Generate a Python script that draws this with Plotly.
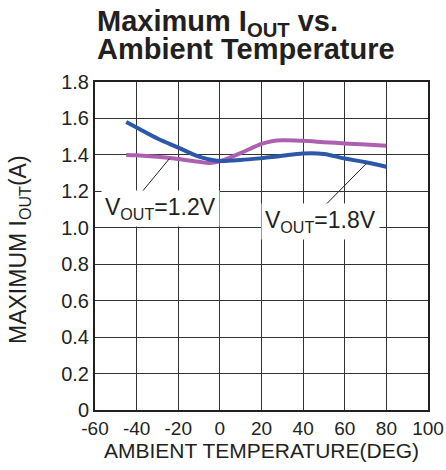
import plotly.graph_objects as go

temps = [-45, -40, -30, -20, -10, -5, 0, 10, 20, 25, 30, 40, 50, 60, 70, 80]
iout_1v8 = [1.58, 1.55, 1.49, 1.44, 1.39, 1.375, 1.367, 1.372, 1.382, 1.388, 1.395, 1.408, 1.405, 1.38, 1.36, 1.335]
iout_1v2 = [1.40, 1.398, 1.39, 1.378, 1.362, 1.355, 1.365, 1.41, 1.46, 1.475, 1.48, 1.477, 1.47, 1.463, 1.457, 1.45]

x_ticks = [-60, -40, -20, 0, 20, 40, 60, 80, 100]
x_ticktext = ["-60", "-40", "-20", "0", "20", "40", "60", "80", "100"]
y_ticks = [0, 0.2, 0.4, 0.6, 0.8, 1.0, 1.2, 1.4, 1.6, 1.8]
y_ticktext = ["0", "0.2", "0.4", "0.6", "0.8", "1.0", "1.2", "1.4", "1.6", "1.8"]

FONT = "Liberation Sans, Arial, sans-serif"
TXT = "#231f20"

fig = go.Figure()
fig.add_trace(go.Scatter(x=temps, y=iout_1v2, mode="lines",
                         line=dict(color="#ad60af", width=4, shape="spline", smoothing=1.0),
                         showlegend=False, hoverinfo="skip"))
fig.add_trace(go.Scatter(x=temps, y=iout_1v8, mode="lines",
                         line=dict(color="#2b58a8", width=4, shape="spline", smoothing=1.0),
                         showlegend=False, hoverinfo="skip"))

W, H = 446, 470
L, T, PW, PH = 95, 82, 333, 328
annotations = [
    # leader lines
    dict(x=-24.2, y=1.38, ax=-43, ay=1.12, xref="x", yref="y", axref="x", ayref="y",
         text="", showarrow=True, arrowhead=0, arrowwidth=1, arrowcolor=TXT),
    dict(x=70.4, y=1.353, ax=46, ay=1.07, xref="x", yref="y", axref="x", ayref="y",
         text="", showarrow=True, arrowhead=0, arrowwidth=1, arrowcolor=TXT),
    # labels
    dict(x=-28.5, y=1.105, xref="x", yref="y", showarrow=False,
         text="V<sub>OUT</sub>=1.2V", bgcolor="white", borderpad=3,
         font=dict(family=FONT, size=23, color=TXT)),
    dict(x=48.5, y=1.035, xref="x", yref="y", showarrow=False,
         text="V<sub>OUT</sub>=1.8V", bgcolor="white", borderpad=3,
         font=dict(family=FONT, size=23, color=TXT)),
    # title lines
    dict(x=0.0, y=(T + PH - 23) / PH, xref="paper", yref="paper", xanchor="left", yanchor="middle",
         showarrow=False, text="<b>Maximum I<sub>OUT</sub> vs.</b>",
         font=dict(family=FONT, size=29, color=TXT)),
    dict(x=0.0, y=(T + PH - 49) / PH, xref="paper", yref="paper", xanchor="left", yanchor="middle",
         showarrow=False, text="<b>Ambient Temperature</b>",
         font=dict(family=FONT, size=29, color=TXT)),
    # y axis title
    dict(x=(19 - L) / PW, y=(T + PH - 250) / PH, xref="paper", yref="paper",
         xanchor="center", yanchor="middle", textangle=-90, showarrow=False,
         text="MAXIMUM I<sub>OUT</sub>(A)", font=dict(family=FONT, size=23, color=TXT)),
]

fig.update_layout(
    width=W, height=H,
    margin=dict(l=L, r=W - L - PW, t=T, b=H - T - PH, autoexpand=False),
    paper_bgcolor="white", plot_bgcolor="white",
    font=dict(family=FONT, size=20, color=TXT),
    annotations=annotations,
    hovermode=False,
    xaxis=dict(range=[-60, 100], tickvals=x_ticks, ticktext=x_ticktext, showgrid=True,
               gridcolor="#333333", gridwidth=1, automargin=False, ticklabeloverflow="allow",
               zeroline=False, showline=True, linecolor="#231f20", linewidth=2, mirror=True,
               ticks="", ticklen=0, tickfont=dict(size=19),
               title=dict(text="AMBIENT TEMPERATURE(DEG)", font=dict(size=21), standoff=4)),
    yaxis=dict(range=[0, 1.8], tickvals=y_ticks, ticktext=y_ticktext, showgrid=True,
               gridcolor="#333333", gridwidth=1, zeroline=False, showline=True, automargin=False,
               linecolor="#231f20", linewidth=2, mirror=True, ticks="", tickfont=dict(size=20)),
)

fig.write_html("out.html", config={"displayModeBar": False},
               post_script="document.body.style.margin='0';document.body.style.overflow='hidden';")
